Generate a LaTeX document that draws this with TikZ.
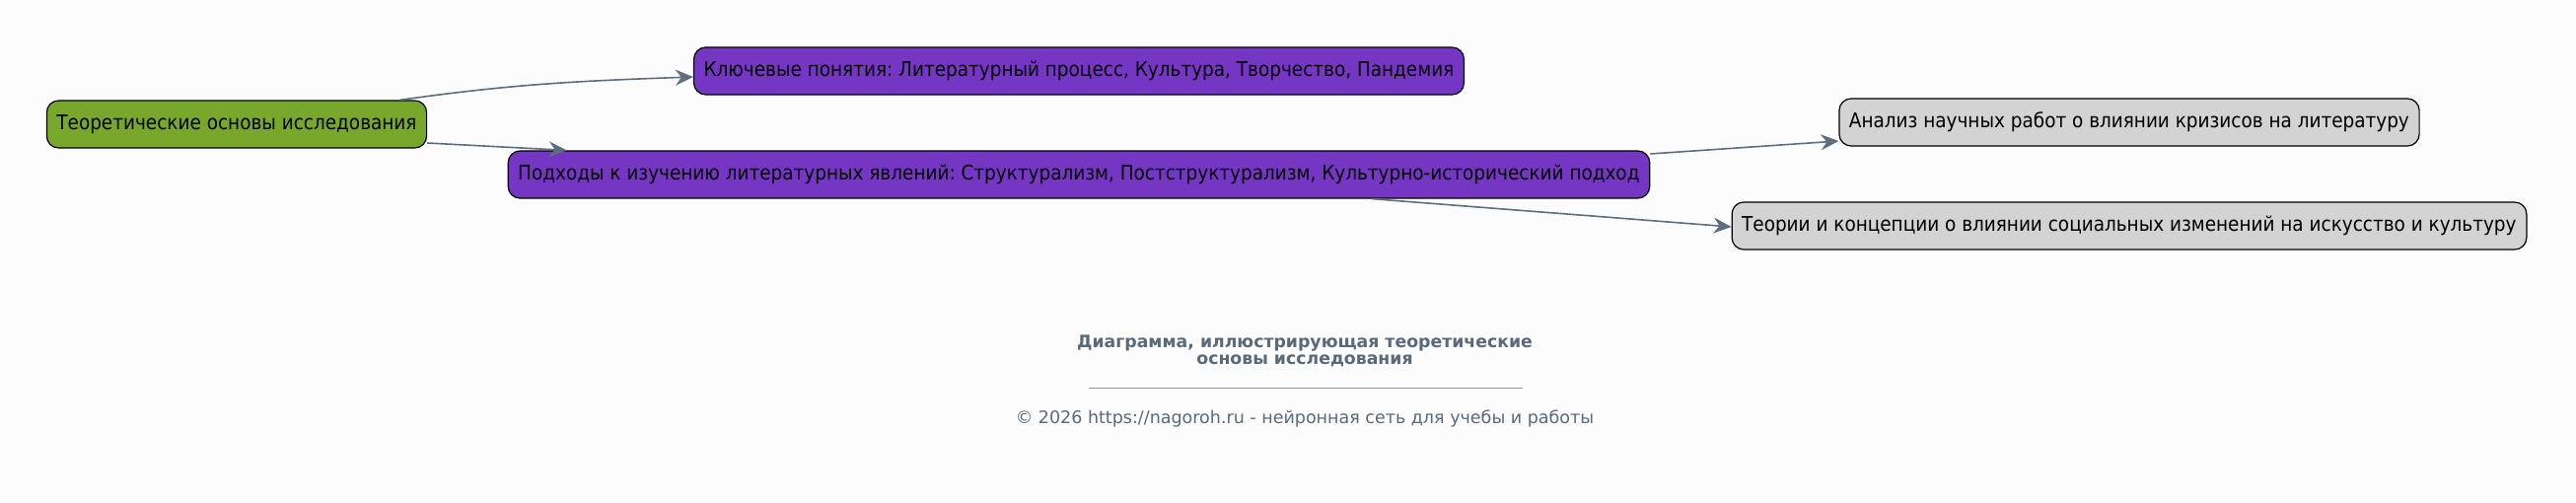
\documentclass[tikz,border=0pt]{standalone}
\usepackage{fontspec}
\setmainfont{DejaVu Sans}
\newfontfamily\condfont{DejaVu Sans Condensed}
\usepackage{xcolor}
\usetikzlibrary{positioning,arrows.meta}
\frenchspacing
\definecolor{rootgreen}{HTML}{78A82B}
\definecolor{lvlpurple}{HTML}{7537C3}
\definecolor{lvlgray}{HTML}{D3D3D3}
\definecolor{linkgray}{HTML}{5F6E7F}
\definecolor{captiongray}{HTML}{5A6A7A}
\definecolor{pagebg}{HTML}{FCFCFD}
\tikzset{
  basic/.style  = {draw, rounded corners=12pt, line width=1.2pt, minimum height=48pt,
                   inner xsep=10pt, font=\condfont\fontsize{20.5}{24}\selectfont},
  root/.style   = {basic, fill=rootgreen},
  level 2/.style = {basic, fill=lvlpurple},
  level 3/.style = {basic, fill=lvlgray},
  link/.style   = {draw=linkgray, line width=1.6pt,
                   -{Stealth[length=18pt,width=16pt,inset=6pt]}},
  caption/.style = {text=captiongray, align=center}
}

\begin{document}
\begin{tikzpicture}[x=1pt,y=1pt]
\fill[pagebg] (0,0) rectangle (2612,509);
\useasboundingbox (0,0) rectangle (2612,509);

\node[root] (n) at (240,383) {Теоретические основы исследования};
\node[level 2] (c1) at (1094,437) {Ключевые понятия: Литературный процесс, Культура, Творчество, Пандемия};
\node[level 2] (c2) at (1094,332) {Подходы к изучению литературных явлений: Структурализм, Постструктурализм, Культурно-исторический подход};
\node[level 3] (c3) at (2159,385) {Анализ научных работ о влиянии кризисов на литературу};
\node[level 3] (c4) at (2159,280) {Теории и концепции о влиянии социальных изменений на искусство и культуру};

\path[link] ([xshift=-28pt]n.north east) to[out=8,in=182] ([yshift=-6pt]c1.west);
\path[link] ([yshift=-19pt]n.east) to ([xshift=60pt]c2.north west);
\path[link] ([yshift=21pt]c2.east) to ([yshift=-19pt]c3.west);
\path[link] ([xshift=297pt]c2.south) to ([yshift=-1pt]c4.west);

% caption
\node[caption, font=\bfseries\fontsize{17.3}{17}\selectfont] (title) at (1323,153)
  {Диаграмма, иллюстрирующая теоретические\\основы исследования};
\draw[captiongray!70, line width=0.8pt] (1104,116) -- (1544,116);
\node[caption, font=\fontsize{17.5}{20}\selectfont] (foot) at (1323,84)
  {© 2026 https://nagoroh.ru - нейронная сеть для учебы и работы};
\end{tikzpicture}
\end{document}
